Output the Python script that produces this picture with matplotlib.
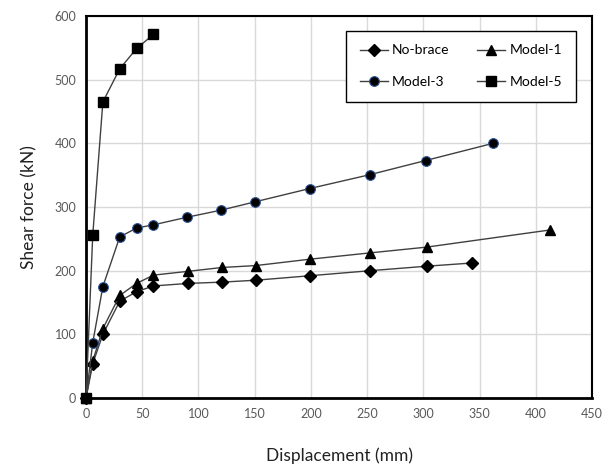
import matplotlib
matplotlib.use("Agg")
import matplotlib.pyplot as plt

nobrace_x = [0, 6, 15, 30, 45, 60, 91, 121, 151, 199, 253, 303, 343]
nobrace_y = [0, 54, 100, 152, 167, 176, 180, 182, 185, 192, 200, 207, 212]
model1_x = [0, 6, 15, 30, 45, 60, 91, 121, 151, 199, 253, 303, 413]
model1_y = [0, 58, 109, 161, 180, 193, 199, 205, 208, 218, 228, 237, 264]
model3_x = [0, 6, 15, 30, 45, 60, 90, 120, 150, 199, 253, 302, 362]
model3_y = [0, 87, 175, 253, 267, 272, 284, 295, 308, 329, 351, 373, 400]
model5_x = [0, 6, 15, 30, 45, 60]
model5_y = [0, 256, 465, 517, 549, 571]

plt.rcParams['font.family'] = ['Lato', 'DejaVu Sans']

fig = plt.figure(figsize=(6.1, 4.69), dpi=100)
ax = fig.add_axes([86/610, 1-398/469, (592-86)/610, (398-16)/469])

lc = '#404040'
h1, = ax.plot(nobrace_x, nobrace_y, color=lc, lw=1, marker='D', ms=6, mfc='black', mec='black', label='No-brace', zorder=3, clip_on=False)
h2, = ax.plot(model1_x, model1_y, color=lc, lw=1, marker='^', ms=7.5, mfc='black', mec='black', label='Model-1', zorder=3, clip_on=False)
h3, = ax.plot(model3_x, model3_y, color=lc, lw=1, marker='o', ms=7, mfc='black', mec='#2f5597', mew=0.8, label='Model-3', zorder=3, clip_on=False)
h4, = ax.plot(model5_x, model5_y, color=lc, lw=1, marker='s', ms=7.5, mfc='black', mec='black', label='Model-5', zorder=4, clip_on=False)

ax.set_xlim(0, 450)
ax.set_ylim(0, 600)
ax.set_xticks(range(0, 451, 50))
ax.set_yticks(range(0, 601, 100))
ax.grid(True, color='#d9d9d9', lw=1)
ax.set_axisbelow(True)
ax.tick_params(length=0, labelsize=9, colors='#595959', pad=7)
for s in ax.spines.values():
    s.set_linewidth(1.5)
    s.set_color('black')
ax.spines['left'].set_linewidth(2)
ax.spines['bottom'].set_linewidth(2)

ax.set_xlabel('Displacement (mm)', fontsize=12.5, color='#222222', labelpad=20)
ax.set_ylabel('Shear force (kN)', fontsize=12.5, color='#222222', labelpad=12)

leg = ax.legend([h1, h3, h2, h4], ['No-brace', 'Model-3', 'Model-1', 'Model-5'],
                ncol=2, loc='upper right', bbox_to_anchor=(0.982, 0.98), fontsize=10,
                frameon=True, fancybox=False, edgecolor='black', framealpha=1,
                handlelength=2.0, columnspacing=2.0, labelspacing=1.4,
                borderpad=1.0, handletextpad=0.3)
leg.get_frame().set_linewidth(1)

fig.savefig('out.png', dpi=100)
